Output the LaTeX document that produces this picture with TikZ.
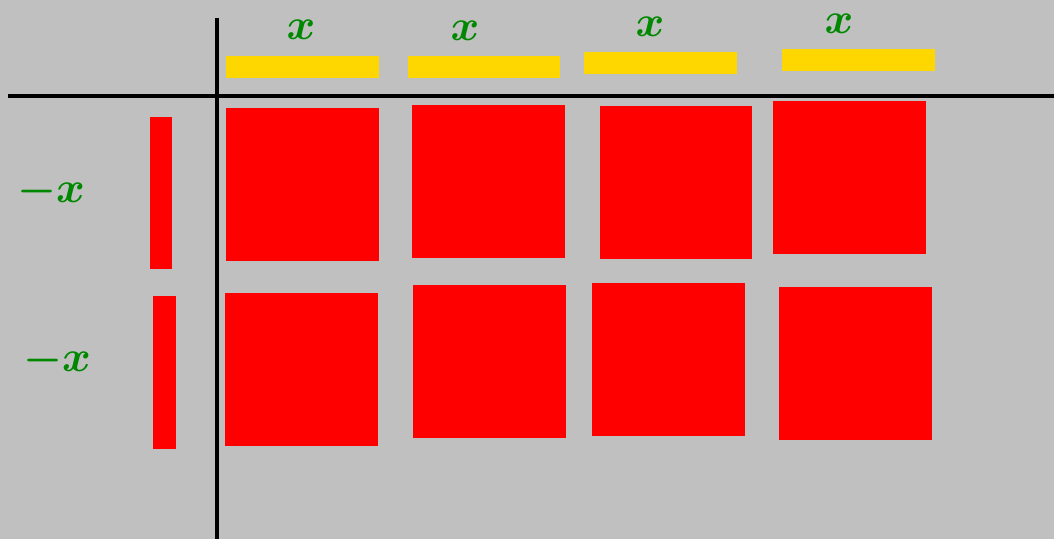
\documentclass[tikz,border=0pt]{standalone}
\usepackage{tikz}
\definecolor{bggray}{RGB}{192,192,192}
\definecolor{tilered}{RGB}{255,0,0}
\definecolor{tileyellow}{RGB}{255,215,0}
\definecolor{pengreen}{RGB}{0,136,0}

\begin{document}
\begin{tikzpicture}[x=0.02cm, y=-0.02cm,
		lab/.style={text=pengreen, inner sep=0pt, font=\fontsize{38}{44}\selectfont\boldmath},
		axis/.style={line width=2.5pt}]
		\useasboundingbox (0,0) rectangle (1054,539);
		\fill[bggray] (0,0) rectangle (1054,539);
		\draw[axis] (8,96) -- (1054,96);
		\draw[axis] (217,18) -- (217,539);
		% x tiles along the top
		\fill[tileyellow] (226,56) rectangle (379,78);
		\fill[tileyellow] (408,56) rectangle (560,78);
		\fill[tileyellow] (584,52) rectangle (737,74);
		\fill[tileyellow] (782,49) rectangle (935,71);
		% -x tiles down the side
		\fill[tilered] (150,117) rectangle (172,269);
		\fill[tilered] (153,296) rectangle (176,449);
		% products
		\fill[tilered] (226,108) rectangle (379,261);
		\fill[tilered] (412,105) rectangle (565,258);
		\fill[tilered] (600,106) rectangle (752,259);
		\fill[tilered] (773,101) rectangle (926,254);
		\fill[tilered] (225,293) rectangle (378,446);
		\fill[tilered] (413,285) rectangle (566,438);
		\fill[tilered] (592,283) rectangle (745,436);
		\fill[tilered] (779,287) rectangle (932,440);
		\node[lab] (top1) at (301,30) {$x$};
		\node[lab] (top2) at (465,31) {$x$};
		\node[lab] (top3) at (650,27) {$x$};
		\node[lab] (top4) at (839,24) {$x$};
		\node[lab] (side1) at (51,192) {$-x$};
		\node[lab] (side2) at (57,361) {$-x$};
	\end{tikzpicture}
\end{document}
